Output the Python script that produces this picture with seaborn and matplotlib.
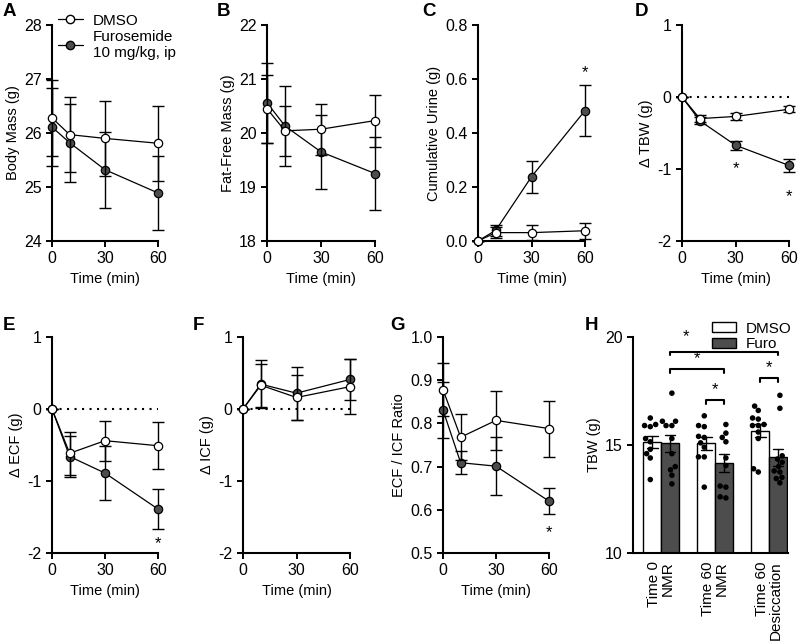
import matplotlib
matplotlib.use("Agg")
import matplotlib.pyplot as plt
from matplotlib.lines import Line2D
from matplotlib.patches import Patch
import numpy as np
import pandas as pd
import seaborn as sns

# ---- data (mean +/- SEM) ----
time_min = [0, 10, 30, 60]

body_dmso = [26.28, 25.97, 25.90, 25.81]
body_dmso_sem = [0.70, 0.69, 0.70, 0.69]
body_furo = [26.11, 25.82, 25.32, 24.89]
body_furo_sem = [0.72, 0.72, 0.70, 0.69]

ffm_dmso = [20.45, 20.04, 20.07, 20.23]
ffm_dmso_sem = [0.63, 0.46, 0.47, 0.48]
ffm_furo = [20.56, 20.13, 19.65, 19.25]
ffm_furo_sem = [0.74, 0.74, 0.69, 0.67]

urine_dmso = [0.0, 0.031, 0.031, 0.038]
urine_dmso_sem = [0.0, 0.02, 0.028, 0.03]
urine_furo = [0.0, 0.04, 0.238, 0.483]
urine_furo_sem = [0.0, 0.02, 0.06, 0.095]

tbw_dmso = [0.0, -0.30, -0.27, -0.17]
tbw_dmso_sem = [0.0, 0.05, 0.05, 0.04]
tbw_furo = [0.0, -0.33, -0.67, -0.95]
tbw_furo_sem = [0.0, 0.05, 0.06, 0.09]

ecf_dmso = [0.0, -0.615, -0.44, -0.51]
ecf_dmso_sem = [0.0, 0.30, 0.28, 0.33]
ecf_furo = [0.0, -0.66, -0.89, -1.39]
ecf_furo_sem = [0.0, 0.29, 0.38, 0.28]

icf_dmso = [0.0, 0.33, 0.16, 0.31]
icf_dmso_sem = [0.0, 0.30, 0.31, 0.38]
icf_furo = [0.0, 0.345, 0.22, 0.41]
icf_furo_sem = [0.0, 0.33, 0.37, 0.29]

ratio_dmso = [0.878, 0.768, 0.807, 0.788]
ratio_dmso_sem = [0.062, 0.053, 0.068, 0.065]
ratio_furo = [0.831, 0.709, 0.701, 0.620]
ratio_furo_sem = [0.064, 0.027, 0.067, 0.030]

# panel H: individual TBW values (g)
conditions = ["Time 0\nNMR", "Time 60\nNMR", "Time 60\nDesiccation"]
tbw_t0_dmso = [16.25, 15.95, 15.9, 15.85, 15.3, 15.15, 14.8, 14.6, 14.4, 13.4]
tbw_t0_furo = [17.4, 16.1, 16.1, 15.9, 15.9, 15.3, 14.6, 14.0, 13.85, 13.6, 13.2]
tbw_t60_dmso = [16.35, 15.9, 15.85, 15.4, 15.35, 15.1, 14.9, 14.45, 14.45, 13.05]
tbw_t60_furo = [15.95, 15.55, 15.35, 15.15, 14.4, 14.05, 13.1, 13.05, 12.6, 12.55]
tbw_des_dmso = [16.8, 16.6, 16.25, 16.2, 15.95, 15.9, 15.9, 15.6, 15.3, 13.9, 13.75]
tbw_des_furo = [17.3, 16.7, 14.5, 14.35, 14.2, 14.0, 13.8, 13.75, 13.5, 13.45, 13.25]

DARK = "#4d4d4d"

sns.set_theme(style="ticks")
plt.rcParams['font.family'] = ['Liberation Sans', 'DejaVu Sans']
plt.rcParams.update({
    'axes.linewidth': 1.5,
    'axes.unicode_minus': False,
    'xtick.major.width': 1.4, 'ytick.major.width': 1.4,
    'xtick.major.size': 4, 'ytick.major.size': 4,
    'xtick.labelsize': 11.5, 'ytick.labelsize': 11.5,
    'axes.labelsize': 10.5, 'text.color': 'black',
    'xtick.color': 'black', 'ytick.color': 'black',
    'axes.edgecolor': 'black', 'axes.labelcolor': 'black',
})

fig = plt.figure(figsize=(8, 6.43), dpi=100)


def px_axes(left, top, right, bottom):
    return fig.add_axes([left / 800, 1 - bottom / 643,
                         (right - left) / 800, (bottom - top) / 643])


def time_panel(ax, dmso, dmso_sem, furo, furo_sem, ylim, yticks, ylabel,
               zero_line=False, fmt=None):
    if zero_line:
        ax.plot([0, 60], [0, 0], color='black', lw=1.5,
                linestyle=(0, (1, 2.6)), zorder=1)
    for vals, sem, face, z in [(furo, furo_sem, DARK, 3), (dmso, dmso_sem, 'white', 4)]:
        ax.errorbar(time_min, vals, yerr=sem, fmt='none', ecolor='black',
                    elinewidth=1.0, capsize=4, capthick=1.0, clip_on=False, zorder=z)
        sns.lineplot(x=time_min, y=vals, ax=ax, color='black', lw=0.9,
                     marker='o', markersize=6, markerfacecolor=face,
                     markeredgecolor='black', markeredgewidth=0.9,
                     clip_on=False, zorder=z + 0.5)
    ax.set_xlim(0, 60)
    ax.set_xticks([0, 30, 60])
    ax.set_ylim(*ylim)
    ax.set_yticks(yticks)
    if fmt:
        ax.set_yticklabels([fmt.format(v) for v in yticks])
    ax.set_xlabel("Time (min)", labelpad=4)
    ax.set_ylabel(ylabel, labelpad=3)
    sns.despine(ax=ax)


def star(ax, x, y):
    ax.text(x, y, "*", ha='center', va='center', fontsize=12, clip_on=False)


axA = px_axes(52, 25, 158, 241)
time_panel(axA, body_dmso, body_dmso_sem, body_furo, body_furo_sem,
           (24, 28), [24, 25, 26, 27, 28], "Body Mass (g)")
handles = [Line2D([], [], color='black', lw=0.9, marker='o', ms=6,
                  mfc='white', mec='black'),
           Line2D([], [], color='black', lw=0.9, marker='o', ms=6,
                  mfc=DARK, mec='black')]
axA.legend(handles, ["DMSO", "Furosemide\n10 mg/kg, ip"], loc='upper left',
           bbox_to_anchor=(0.0, 1.08), frameon=False, fontsize=11,
           handlelength=1.6, handletextpad=0.7, labelspacing=0.15,
           borderaxespad=0)

axB = px_axes(267, 25, 375, 241)
time_panel(axB, ffm_dmso, ffm_dmso_sem, ffm_furo, ffm_furo_sem,
           (18, 22), [18, 19, 20, 21, 22], "Fat-Free Mass (g)")

axC = px_axes(478, 25, 585, 241)
time_panel(axC, urine_dmso, urine_dmso_sem, urine_furo, urine_furo_sem,
           (0, 0.8), [0, 0.2, 0.4, 0.6, 0.8], "Cumulative Urine (g)", fmt="{:.1f}")
star(axC, 60, 0.625)

axD = px_axes(682, 25, 789, 241)
time_panel(axD, tbw_dmso, tbw_dmso_sem, tbw_furo, tbw_furo_sem,
           (-2, 1), [-2, -1, 0, 1], "\u0394 TBW (g)", zero_line=True)
star(axD, 30, -1.0)
star(axD, 60, -1.38)

axE = px_axes(52, 337, 158, 553)
time_panel(axE, ecf_dmso, ecf_dmso_sem, ecf_furo, ecf_furo_sem,
           (-2, 1), [-2, -1, 0, 1], "\u0394 ECF (g)", zero_line=True)
star(axE, 60, -1.87)

axF = px_axes(243, 337, 350, 553)
time_panel(axF, icf_dmso, icf_dmso_sem, icf_furo, icf_furo_sem,
           (-2, 1), [-2, -1, 0, 1], "\u0394 ICF (g)", zero_line=True)

axG = px_axes(443, 337, 549, 553)
time_panel(axG, ratio_dmso, ratio_dmso_sem, ratio_furo, ratio_furo_sem,
           (0.5, 1.0), [0.5, 0.6, 0.7, 0.8, 0.9, 1.0], "ECF / ICF Ratio", fmt="{:.1f}")
star(axG, 60, 0.548)

# ---- panel H ----
rows = []
for cond, d, f in zip(conditions, [tbw_t0_dmso, tbw_t60_dmso, tbw_des_dmso],
                      [tbw_t0_furo, tbw_t60_furo, tbw_des_furo]):
    rows += [(cond, "DMSO", v) for v in d]
    rows += [(cond, "Furo", v) for v in f]
df = pd.DataFrame(rows, columns=["condition", "treatment", "tbw"])

axH = px_axes(633, 337, 788, 553)
sns.barplot(data=df, x="condition", y="tbw", hue="treatment", order=conditions,
            palette={"DMSO": "white", "Furo": DARK}, errorbar="se",
            capsize=0.4, width=0.66, edgecolor='black', linewidth=1.0,
            err_kws={'color': 'black', 'linewidth': 1.0}, legend=False, ax=axH)
sns.swarmplot(data=df, x="condition", y="tbw", hue="treatment", order=conditions,
              dodge=True, palette={"DMSO": "black", "Furo": "black"}, size=4,
              legend=False, ax=axH)
axH.set_ylim(10, 20)
axH.set_yticks([10, 15, 20])
axH.set_xlim(-0.52, 2.35)
axH.set_ylabel("TBW (g)", labelpad=3)
axH.set_xlabel("")
axH.set_xticks(range(3))
axH.set_xticklabels(conditions, rotation=90, va='top', ha='center',
                    multialignment='right', fontsize=11, linespacing=1.0)
axH.tick_params(axis='x', length=0, pad=6)
sns.despine(ax=axH)

# significance brackets
brackets = [(0.165, 2.165, 19.32, 0.47, 20.0),
            (0.165, 1.165, 18.5, 0.67, 19.0),
            (0.835, 1.165, 17.08, 1.0, 17.55),
            (1.835, 2.165, 18.09, 2.0, 18.6)]
for x0, x1, y, sx, sy in brackets:
    axH.plot([x0, x0, x1, x1], [y - 0.17, y, y, y - 0.17], color='black',
             lw=1.5, clip_on=False)
    axH.text(sx, sy, "*", ha='center', va='center', fontsize=12)

axH.legend([Patch(facecolor='white', edgecolor='black', lw=1.0),
            Patch(facecolor=DARK, edgecolor='black', lw=1.0)],
           ["DMSO", "Furo"], loc='upper left', bbox_to_anchor=(0.47, 1.1),
           frameon=False, fontsize=11, handlelength=1.6, handleheight=0.6,
           handletextpad=0.6, labelspacing=0.12, borderaxespad=0)

# panel letters
for letter, x, y in [("A", 3, 12), ("B", 217, 12), ("C", 422, 12), ("D", 635, 12),
                     ("E", 3, 325), ("F", 193, 325), ("G", 390, 325), ("H", 585, 325)]:
    fig.text(x / 800, 1 - y / 643, letter, fontsize=13.5, fontweight='bold',
             ha='left', va='center')

fig.savefig("out.png", dpi=100)
